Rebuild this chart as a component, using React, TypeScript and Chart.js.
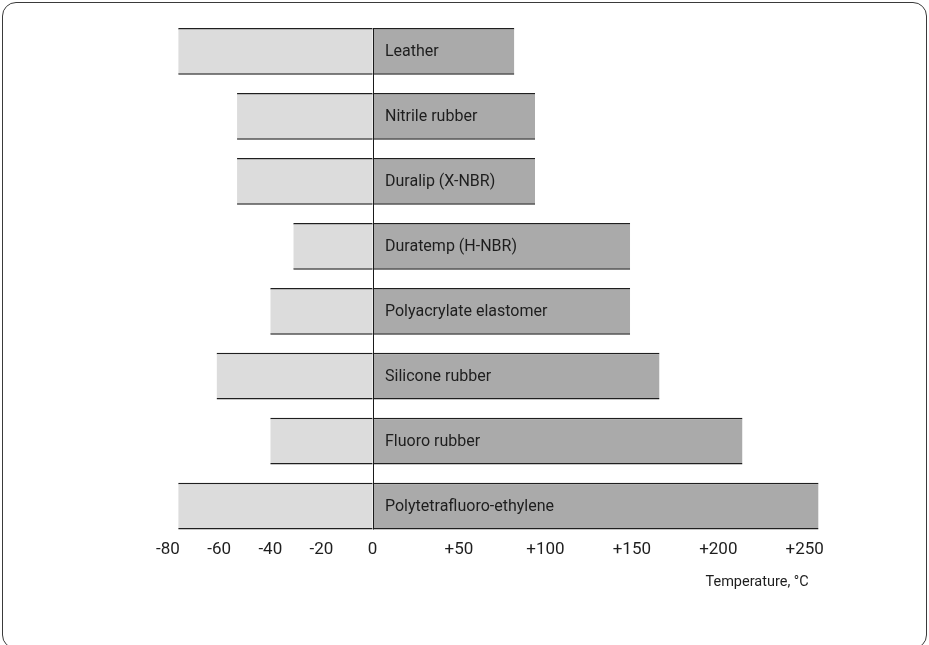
import { useEffect, useRef } from 'react';
import { Chart, registerables, LinearScale } from 'chart.js';

const materials = [
  'Leather',
  'Nitrile rubber',
  'Duralip (X-NBR)',
  'Duratemp (H-NBR)',
  'Polyacrylate elastomer',
  'Silicone rubber',
  'Fluoro rubber',
  'Polytetrafluoro-ethylene',
];
const minTemps = [-76, -53, -53, -31, -40, -61, -40, -76];
const maxTemps = [82, 94, 94, 149, 149, 166, 214, 258];
const tickValues = [-80, -60, -40, -20, 0, 50, 100, 150, 200, 250];
const axisTitle = 'Temperature, °C';

const NEG_FRACTION = 0.3128;

class SplitScale extends LinearScale {
  static id = 'split';
  static defaults = { ...(LinearScale as any).defaults };
  getPixelForValue(value: any) {
    if (value === null || value === undefined) return NaN;
    const v = +value;
    const min = (this as any).min;
    const max = (this as any).max;
    const f = NEG_FRACTION;
    const d = v < 0 ? (f * (v - min)) / (0 - min) : f + ((1 - f) * v) / max;
    return this.getPixelForDecimal(d);
  }
  getValueForPixel(pixel: number) {
    const d = this.getDecimalForPixel(pixel);
    const min = (this as any).min;
    const max = (this as any).max;
    const f = NEG_FRACTION;
    return d < f ? min + (d / f) * (0 - min) : ((d - f) / (1 - f)) * max;
  }
}

Chart.register(...registerables, SplitScale);

const FONT = 'Roboto';

const overlayPlugin = {
  id: 'overlay',
  afterDatasetsDraw(chart: any) {
    const ctx = chart.ctx;
    const x = chart.scales.x;
    const meta = chart.getDatasetMeta(1);
    const bars = meta.data;
    if (!bars.length) return;
    const zx = Math.round(x.getPixelForValue(0)) + 0.5;
    const first = bars[0];
    const last = bars[bars.length - 1];
    ctx.save();
    ctx.strokeStyle = '#1a1a1a';
    ctx.lineWidth = 1;
    ctx.beginPath();
    ctx.moveTo(zx, first.y - first.height / 2);
    ctx.lineTo(zx, last.y + last.height / 2);
    ctx.stroke();

    ctx.fillStyle = '#1e1e1e';
    ctx.font = `16px ${FONT}`;
    ctx.textAlign = 'left';
    ctx.textBaseline = 'middle';
    bars.forEach((b: any, i: number) => {
      ctx.fillText(materials[i], zx + 11.5, b.y + 1);
    });

    ctx.font = `14.5px ${FONT}`;
    ctx.textAlign = 'right';
    ctx.fillText(axisTitle, x.getPixelForValue(250) + 4, 582);
    ctx.restore();
  },
};

export default function App() {
  const ref = useRef<HTMLCanvasElement | null>(null);
  useEffect(() => {
    if (!ref.current) return;
    const chart = new Chart(ref.current, {
      type: 'bar',
      data: {
        labels: materials,
        datasets: [
          {
            data: minTemps,
            backgroundColor: '#dcdcdc',
            borderColor: '#1f1f1f',
            borderWidth: { top: 1.5, bottom: 1.5, left: 0, right: 0 },
            borderSkipped: false,
            barPercentage: 0.72,
            categoryPercentage: 1,
          },
          {
            data: maxTemps,
            backgroundColor: '#aaaaaa',
            borderColor: '#1f1f1f',
            borderWidth: { top: 1.5, bottom: 1.5, left: 0, right: 0 },
            borderSkipped: false,
            barPercentage: 0.72,
            categoryPercentage: 1,
          },
        ],
      },
      options: {
        indexAxis: 'y',
        responsive: false,
        animation: false,
        layout: { padding: { left: 168, right: 107, top: 19, bottom: 84 } },
        plugins: {
          legend: { display: false },
          tooltip: { enabled: false },
          title: { display: false },
        },
        scales: {
          x: {
            type: 'split' as any,
            min: -80,
            max: 260,
            stacked: true,
            grid: { display: false, drawTicks: false },
            border: { display: false },
            afterBuildTicks: (scale: any) => {
              scale.ticks = tickValues.map((v) => ({ value: v }));
            },
            ticks: {
              autoSkip: false,
              maxRotation: 0,
              padding: 1,
              color: '#1e1e1e',
              font: { family: FONT, size: 17 },
              callback: (v: any) => (Number(v) > 0 ? '+' + v : String(v)),
            },
          },
          y: {
            stacked: true,
            display: false,
          },
        },
      },
      plugins: [overlayPlugin],
    } as any);
    return () => chart.destroy();
  }, []);

  return (
    <div>
      <div
        style={{
          position: 'fixed',
          left: 2,
          top: 2,
          width: 925,
          height: 647,
          boxSizing: 'border-box',
          border: '1px solid #3a3a3a',
          borderRadius: 14,
          background: '#fff',
        }}
      />
      <canvas
        ref={ref}
        width={929}
        height={645}
        style={{ position: 'fixed', left: 0, top: 0, width: 929, height: 645 }}
      />
    </div>
  );
}
